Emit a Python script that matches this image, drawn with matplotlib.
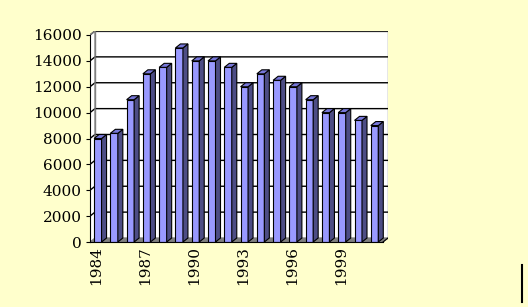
import matplotlib
matplotlib.use('Agg')
import matplotlib.pyplot as plt
from matplotlib.patches import Polygon
from matplotlib.lines import Line2D

# data
years = list(range(1984, 2002))
values = [8000, 8400, 11000, 13000, 13500, 15000, 14000, 14000, 13500,
          12000, 13000, 12500, 12000, 11000, 10000, 10000, 9400, 9000]
yticks = list(range(0, 16001, 2000))
xlabel_years = [1984, 1987, 1990, 1993, 1996, 1999]

W, H = 528, 307
fig = plt.figure(figsize=(W / 100, H / 100), dpi=100)
fig.patch.set_facecolor('#FFFFCC')

# axes box in pixels: front plane 90..383, back wall reaches 388
ax = fig.add_axes([90 / W, (H - 242) / H, 298 / W, 211 / H])
ax.set_facecolor('none')

n = len(values)
ymax = 16000
dy = 4 * (ymax / 207.0)          # depth offset in data units (about 4 px)
dx = 5 / (293.0 / n)             # depth offset in slot units (about 5 px)
x0, x1 = -0.5, n - 0.5
ax.set_xlim(x0, x1 + dx)
ax.set_ylim(0, ymax + dy)

# back wall, left wall and floor
ax.add_patch(Polygon([(x0 + dx, dy), (x1 + dx, dy), (x1 + dx, ymax + dy), (x0 + dx, ymax + dy)],
                     closed=True, facecolor='white', edgecolor='#808080', lw=1, zorder=0))
ax.add_patch(Polygon([(x0, 0), (x0 + dx, dy), (x0 + dx, ymax + dy), (x0, ymax)],
                     closed=True, facecolor='white', edgecolor='none', zorder=0))
for t in yticks[1:]:
    lw = 1.0
    ax.plot([x0, x0 + dx, x1 + dx], [t, t + dy, t + dy], color='black', lw=lw, zorder=1)
ax.plot([x0, x0 + dx, x0 + dx], [ymax, ymax + dy, dy], color='#808080', lw=1, zorder=1)
ax.add_patch(Polygon([(x0, 0), (x1, 0), (x1 + dx, dy), (x0 + dx, dy)],
                     closed=True, facecolor='#808080', edgecolor='#808080', lw=0.8, zorder=2))

# 3D-looking bars
w = 0.46
xs = [i - 0.02 for i in range(n)]
ax.bar(xs, values, width=w, color='#9999FF', edgecolor='black', linewidth=0.8, zorder=3)
for x, v in zip(xs, values):
    r = x + w / 2
    l = x - w / 2
    ax.add_patch(Polygon([(r, 0), (r + dx, dy), (r + dx, v + dy), (r, v)],
                         closed=True, facecolor='#4D4D85', edgecolor='black', lw=0.8, zorder=3))
    ax.add_patch(Polygon([(l, v), (r, v), (r + dx, v + dy), (l + dx, v + dy)],
                         closed=True, facecolor='#7777D9', edgecolor='black', lw=0.8, zorder=3))

# axes and ticks
for s in ['top', 'right']:
    ax.spines[s].set_visible(False)
ax.spines['left'].set_bounds(0, ymax)
ax.spines['bottom'].set_bounds(x0, x1)
ax.spines['left'].set_zorder(4)
ax.spines['bottom'].set_zorder(4)
ax.plot([x1, x1 + dx], [0, dy], color='black', lw=0.8, zorder=4)

tick_font = dict(family='DejaVu Serif', size=11)
ax.set_yticks(yticks)
ax.set_yticklabels([str(t) for t in yticks], **tick_font)
ax.tick_params(axis='y', length=3, width=0.8, pad=3)
ax.set_xticks([years.index(y) - 0.1 for y in xlabel_years])
ax.set_xticklabels([str(y) for y in xlabel_years], rotation=90, **tick_font)
ax.tick_params(axis='x', length=0, pad=3)

# stray vertical mark at the lower right
fig.add_artist(Line2D([522 / W, 522 / W], [1 - 265 / H, 1 - 302 / H], color='black', lw=1.5))

fig.savefig('out.png', dpi=100, facecolor=fig.get_facecolor())
